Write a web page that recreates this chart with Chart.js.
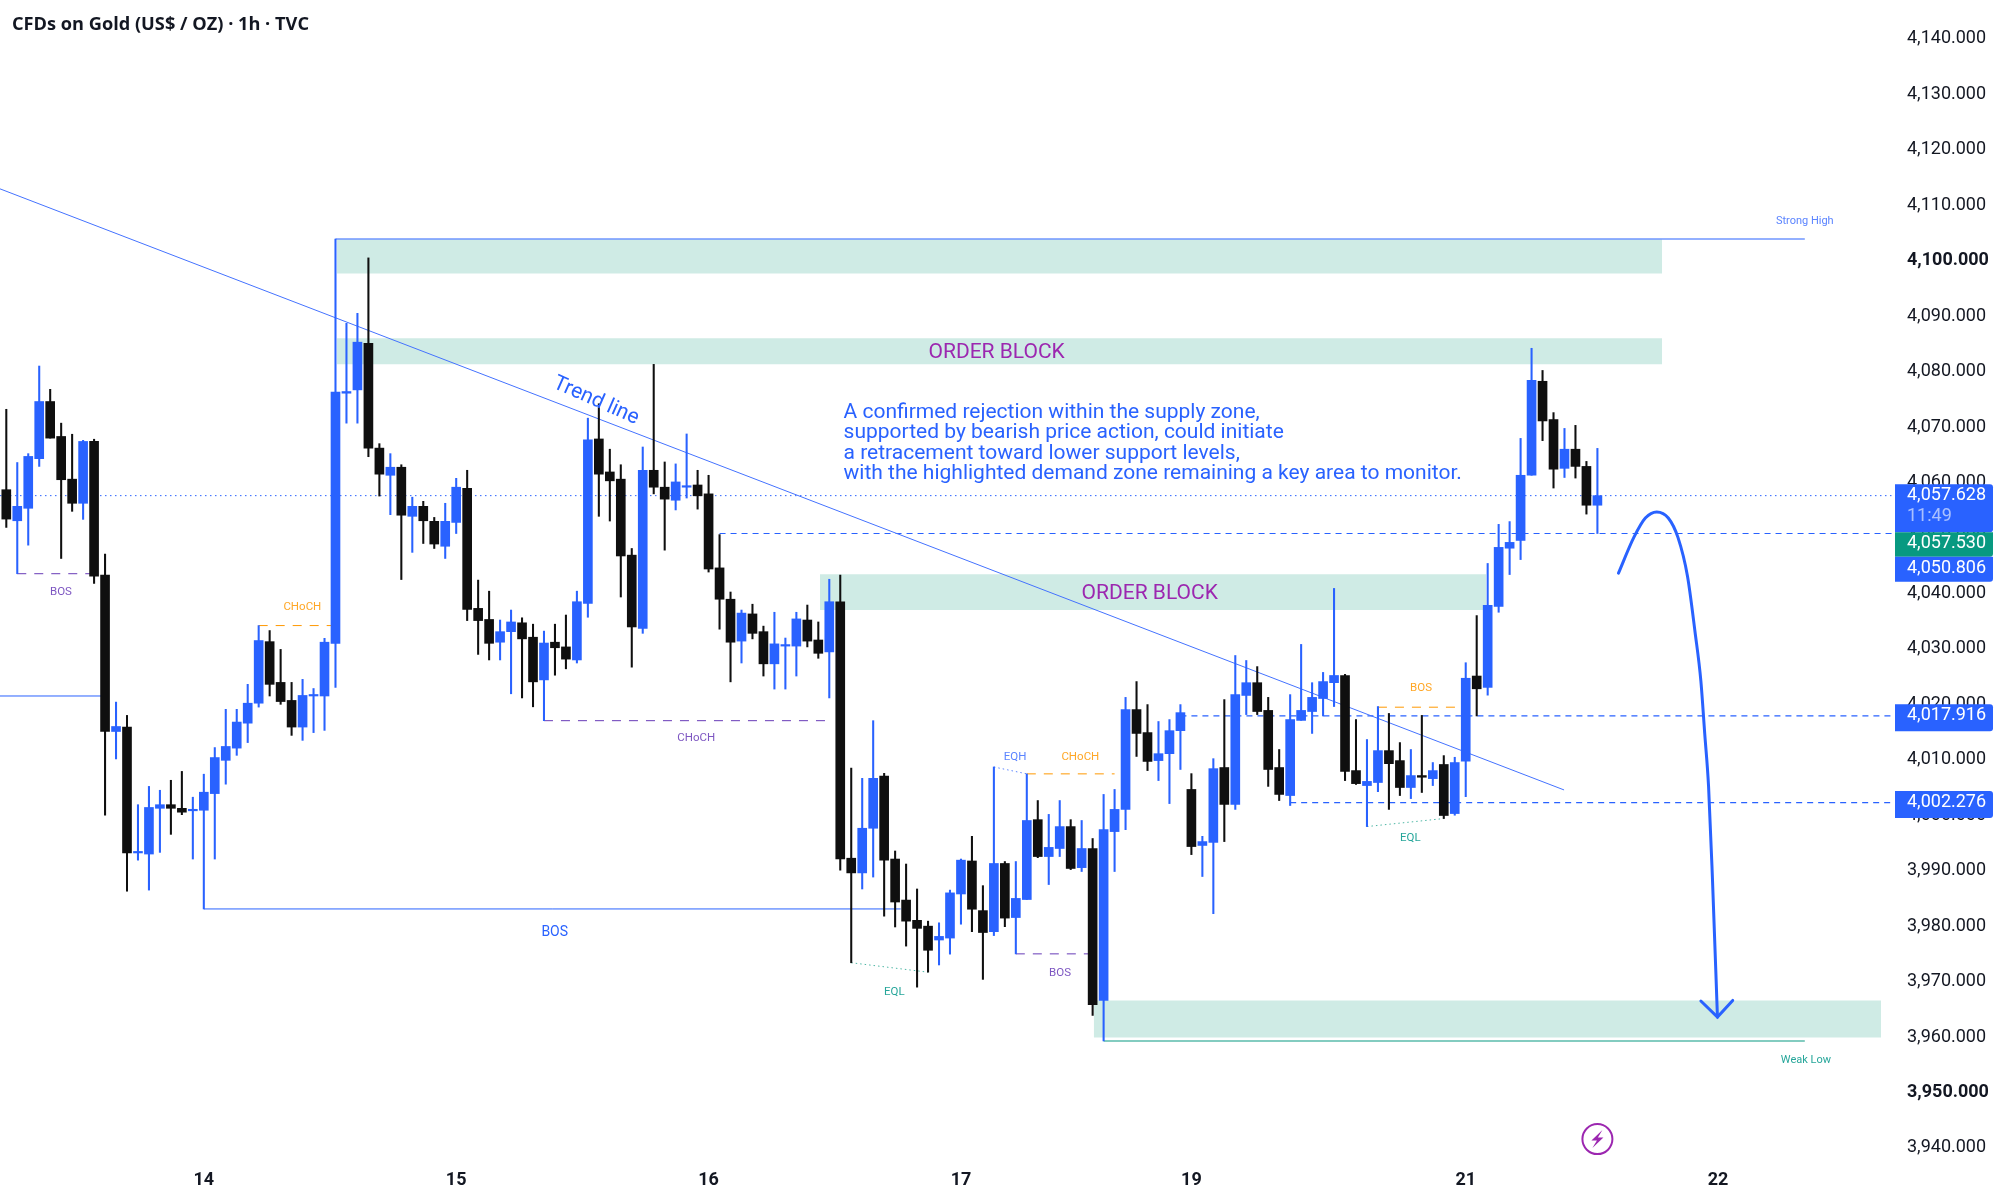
<!DOCTYPE html>
<html><head><meta charset="utf-8">
<style>html,body{margin:0;padding:0;background:#fff}canvas{display:block}</style>
<script src="https://cdn.jsdelivr.net/npm/chart.js@4"></script>
</head><body><canvas id="c" width="2001" height="1199"></canvas>
<script>
const titleText = 'CFDs on Gold (US$ / OZ) · 1h · TVC';
const opens = [
4058.7,4053.1,4055.35,4064.3,4074.6,4068.3,4060.6,4056.25,4067.4,4043.3,
4015.1,4015.9,3993.2,3993.0,4001.25,4001.9,4001.25,4000.8,4000.9,4003.9,
4009.9,4012.1,4016.6,4020.2,4031.3,4023.95,4020.7,4015.9,4021.5,4021.5,
4031.0,4076.1,4076.7,4085.1,4066.2,4061.3,4062.75,4053.9,4055.7,4053.0,
4048.5,4052.8,4058.95,4037.3,4035.3,4031.2,4033.1,4034.7,4032.1,4024.4,
4031.2,4030.35,4028.0,4038.2,4067.85,4061.9,4060.6,4046.9,4033.7,4062.2,
4059.15,4056.8,4059.15,4059.55,4057.95,4044.6,4038.95,4031.4,4036.3,4033.1,
4027.3,4030.5,4030.5,4035.2,4031.6,4029.45,4038.5,3992.25,3989.6,3997.65,
4007.05,3992.1,3984.7,3981.05,3980.0,3977.5,3977.85,3985.8,3991.75,3982.8,
3979.0,3991.3,3981.55,3984.8,3999.2,3992.55,3994.0,3997.95,3990.55,3994.0,
3966.6,3997.05,4001.05,4019.05,4014.9,4009.85,4011.1,4015.25,4004.65,3994.55,
3995.1,4008.6,4001.95,4021.6,4023.9,4018.9,4008.6,4003.55,4017.1,4018.7,
4021.05,4023.9,4025.2,4008.05,4005.35,4005.9,4011.65,4009.85,4005.0,4007.15,
4006.6,4009.15,4000.3,4009.75,4025.1,4023.05,4037.65,4048.15,4049.55,4061.3,
4078.25,4071.35,4062.55,4066.0,4062.9,4055.9];
const closes = [
4053.4,4055.7,4064.7,4074.6,4068.0,4060.5,4056.25,4067.4,4043.1,4015.1,
4016.0,3993.2,3993.3,4001.4,4001.9,4001.25,4000.55,4001.0,4004.15,4010.4,
4012.4,4016.8,4020.2,4031.5,4023.6,4020.5,4015.9,4021.6,4021.7,4031.2,
4076.3,4076.4,4085.3,4066.2,4061.5,4062.75,4054.1,4055.7,4053.1,4048.9,
4053.0,4059.15,4037.1,4035.1,4031.0,4033.1,4034.85,4031.8,4024.05,4031.05,
4030.2,4028.15,4038.5,4067.7,4061.5,4060.3,4046.75,4033.95,4062.2,4059.15,
4057.0,4060.1,4059.3,4057.6,4044.4,4038.95,4031.2,4036.45,4032.8,4027.3,
4030.9,4030.65,4035.4,4031.4,4029.2,4038.5,3992.1,3989.6,3997.65,4006.65,
3991.9,3984.35,3980.9,3979.6,3975.65,3978.15,3986.0,3991.9,3983.05,3978.85,
3991.3,3981.45,3985.0,3999.05,3992.55,3994.2,3997.95,3990.4,3994.0,3965.85,
3997.4,4001.05,4019.05,4014.75,4009.7,4011.1,4015.25,4018.5,3994.35,3995.25,
4008.4,4001.95,4021.75,4023.9,4018.7,4008.25,4003.75,4017.25,4018.9,4021.25,
4024.1,4025.2,4007.9,4005.7,4006.1,4011.65,4009.3,4005.0,4007.15,4006.85,
4008.05,3999.95,4009.5,4024.7,4022.8,4037.85,4048.3,4049.2,4061.3,4078.4,
4071.1,4062.4,4066.0,4062.9,4055.9,4057.63];
const highs = [
4073.2,4063.6,4065.2,4081.0,4076.8,4070.7,4068.7,4067.6,4067.8,4047.1,
4020.4,4018.0,4001.9,4005.2,4004.5,4006.3,4007.9,4003.25,4007.4,4012.2,
4019.1,4019.1,4023.6,4034.2,4033.3,4029.9,4023.95,4024.5,4022.85,4031.9,
4103.9,4088.7,4090.5,4100.5,4067.0,4065.2,4063.2,4057.35,4056.6,4053.7,
4056.25,4060.75,4062.2,4042.4,4040.4,4035.2,4037.0,4035.6,4034.45,4033.2,
4034.45,4036.1,4040.4,4071.6,4074.2,4066.0,4063.2,4048.1,4066.4,4081.3,
4063.7,4063.35,4068.75,4062.2,4061.3,4050.6,4040.25,4037.0,4038.05,4034.1,
4036.6,4031.95,4036.6,4037.9,4034.85,4042.55,4043.3,4008.5,4006.65,4017.05,
4007.55,3993.55,3991.2,3986.7,3980.9,3980.6,3986.5,3992.1,3996.2,3987.3,
4008.7,3991.65,3991.65,4007.45,4002.65,4000.15,4002.65,3999.2,3999.05,3995.8,
4003.75,4004.65,4021.25,4024.1,4019.95,4016.9,4017.25,4019.95,4007.5,3996.2,
4010.2,4020.85,4028.8,4027.9,4026.8,4021.25,4011.85,4021.75,4030.8,4023.9,
4025.75,4040.9,4025.4,4017.25,4013.65,4019.6,4018.35,4013.1,4011.85,4018.0,
4009.5,4010.75,4010.45,4027.5,4036.0,4045.4,4052.45,4052.95,4067.95,4084.2,
4080.2,4072.6,4069.75,4070.3,4063.8,4066.15];
const lows = [
4051.9,4043.55,4048.7,4062.9,4068.0,4046.3,4054.8,4053.35,4041.8,4000.0,
4010.15,3986.3,3991.9,3986.5,3993.3,3996.55,4000.1,3992.1,3983.1,3992.1,
4005.6,4010.8,4013.1,4019.5,4021.5,4020.0,4014.4,4013.5,4014.9,4015.3,
4023.05,4070.7,4070.7,4064.65,4057.55,4054.2,4042.5,4047.4,4049.0,4048.1,
4046.3,4050.8,4035.1,4029.0,4028.0,4028.0,4021.9,4021.15,4019.55,4017.05,
4025.25,4026.4,4027.45,4035.7,4053.9,4053.05,4039.35,4026.7,4032.8,4057.95,
4047.8,4055.05,4057.2,4055.2,4043.85,4033.55,4024.05,4027.45,4031.8,4025.1,
4022.75,4022.75,4025.1,4030.35,4028.3,4021.15,3990.1,3973.4,3986.7,3988.85,
3981.8,3979.85,3976.4,3969.0,3971.7,3973.0,3974.95,3980.35,3979.0,3970.4,
3978.3,3979.9,3975.0,3984.8,3992.35,3987.5,3992.55,3990.2,3989.85,3963.9,
3959.3,3989.85,3997.4,4010.6,4008.05,4006.25,4002.1,4008.25,3992.9,3988.95,
3982.25,3995.25,4001.05,4018.15,4018.15,4005.2,4002.65,4001.75,4017.1,4014.75,
4017.9,4019.6,4006.25,4005.55,3997.95,4004.25,4001.05,4003.55,4003.0,4004.1,
4005.35,3999.4,4000.0,4003.35,4017.9,4021.65,4036.6,4043.4,4046.1,4061.3,
4067.55,4059.0,4060.9,4060.8,4054.3,4050.8];

const dayLabels = ['14','15','16','17','19','21','22'];
const dayPositions = [18,41,64,87,108,133,156];
const boldPriceTicks = [4100,3950];

const BLUE='#2962FF', INK='#0F0F0F', ORANGE='#FF9800', PURPLE='#673AB7', GREEN='#089981';

const zones = [
  {x0:30.14,x1:150.9,top:4103.8,bottom:4097.7},
  {x0:30.14,x1:150.9,top:4086.0,bottom:4081.3},
  {x0:74.15,x1:134.85,top:4043.45,bottom:4037.0},
  {x0:99.1,x1:170.85,top:3966.6,bottom:3959.9}
];
const segments = [
  {pts:[[30,4103.9],[163.9,4103.9]],color:BLUE,w:1.1},
  {pts:[[100,3959.3],[163.9,3959.3]],color:GREEN,w:1.1},
  {pts:[[-0.574,4112.95],[141.96,4004.56]],color:'#4472ff',w:1},
  {pts:[[-0.574,4021.5],[9,4021.5]],color:BLUE,w:1},
  {pts:[[18,3983.1],[81.5,3983.1]],color:BLUE,w:1},
  {pts:[[1,4043.55],[8,4043.55]],color:PURPLE,w:1,dash:[9,8]},
  {pts:[[23,4034.2],[30,4034.2]],color:ORANGE,w:1,dash:[9,8]},
  {pts:[[49,4017.05],[75,4017.05]],color:PURPLE,w:1,dash:[9,8]},
  {pts:[[93,4007.46],[101,4007.46]],color:ORANGE,w:1,dash:[9,8]},
  {pts:[[92,3975.0],[99,3975.0]],color:PURPLE,w:1,dash:[9,8]},
  {pts:[[125,4019.48],[133,4019.48]],color:ORANGE,w:1,dash:[9,8]},
  {pts:[[-0.574,4057.628],[172.12,4057.628]],color:BLUE,w:1,dash:[1.5,3.5]},
  {pts:[[65,4050.806],[172.12,4050.806]],color:BLUE,w:1.2,dash:[6,5]},
  {pts:[[107,4017.916],[172.12,4017.916]],color:BLUE,w:1.2,dash:[6,5]},
  {pts:[[117,4002.276],[172.12,4002.276]],color:BLUE,w:1.2,dash:[6,5]},
  {pts:[[77,3973.4],[84,3971.7]],color:'#4db6a4',w:1,dash:[1.5,3]},
  {pts:[[124,3997.96],[131,3999.4]],color:'#4db6a4',w:1,dash:[1.5,3]},
  {pts:[[90,4008.7],[93,4007.46]],color:'#5b84ff',w:1,dash:[1.5,3]}
];
const curveX = [146.92,148.32,149.37,150.41,151.46,152.34,153.21,153.9,154.43,154.78,155.13,155.48,155.94];
const curveY = [4043.65,4050.1,4053.6,4054.7,4053.6,4050.1,4043.1,4033,4024.2,4014.7,4005.2,3988.75,3963.6];
const arrowHeadX = [154.43,155.94,157.33];
const arrowHeadY = [3966.5,3963.6,3966.6];

const labels = [
  {t:'BOS',x:4.98,y:4040.2,c:'#7e57c2',s:11.5},
  {t:'CHoCH',x:26.98,y:4037.5,c:'#ffa726',s:11.5},
  {t:'BOS',x:49.98,y:3978.8,c:'#2962FF',s:14},
  {t:'CHoCH',x:62.88,y:4013.9,c:'#7e57c2',s:11.5},
  {t:'EQL',x:80.93,y:3968.1,c:'#26a69a',s:11.5},
  {t:'EQH',x:91.93,y:4010.5,c:'#5b84ff',s:11.5},
  {t:'CHoCH',x:97.88,y:4010.5,c:'#ffa726',s:11.5},
  {t:'BOS',x:96.03,y:3971.5,c:'#7e57c2',s:11.5},
  {t:'BOS',x:128.93,y:4022.9,c:'#ffa726',s:11.5},
  {t:'EQL',x:127.95,y:3995.9,c:'#26a69a',s:11.5},
  {t:'Strong High',x:163.9,y:4107.1,c:'#5b84ff',s:11},
  {t:'Weak Low',x:164.0,y:3955.8,c:'#26a69a',s:11},
  {t:'ORDER BLOCK',x:90.25,y:4083.4,c:'#9C27B0',s:21},
  {t:'ORDER BLOCK',x:104.2,y:4039.9,c:'#9C27B0',s:21},
  {t:'Trend line',x:53.74,y:4074.7,c:BLUE,s:21,rot:24},
  {t:'A confirmed rejection within the supply zone,',x:76.3,y:4072.5,c:BLUE,s:21,left:true},
  {t:'supported by bearish price action, could initiate',x:76.3,y:4068.9,c:BLUE,s:21,left:true},
  {t:'a retracement toward lower support levels,',x:76.3,y:4065.2,c:BLUE,s:21,left:true},
  {t:'with the highlighted demand zone remaining a key area to monitor.',x:76.3,y:4061.55,c:BLUE,s:21,left:true}
];
const priceTags = [
  {lines:[{t:'4,057.628',c:'#fff',d:0},{t:'11:49',c:'rgba(255,255,255,.6)',d:21}],price:4057.628,up:11.5,h:48,bg:BLUE},
  {lines:[{t:'4,057.530',c:'#fff',d:0}],price:4057.628,up:-36.5,h:24.5,bg:GREEN,stack:true},
  {lines:[{t:'4,050.806',c:'#fff',d:0}],price:4057.628,up:-61,h:25,bg:BLUE,stack:true},
  {lines:[{t:'4,017.916',c:'#fff',d:0}],price:4017.916,up:11.5,h:27,bg:BLUE},
  {lines:[{t:'4,002.276',c:'#fff',d:0}],price:4002.276,up:11.5,h:27,bg:BLUE}
];
const flashIcon = {x:145,y:3941.6,color:'#9C27B0'};

const idx = opens.map((_,i)=>i);
const candleColor = idx.map(i=>closes[i]>=opens[i]?BLUE:INK);

const datasets = [];
zones.forEach(z=>datasets.push({type:'line',data:[{x:z.x0,y:z.top},{x:z.x1,y:z.top}],
  fill:{value:z.bottom},backgroundColor:'#CFEBE5',borderWidth:0,pointRadius:0,order:100,clip:false}));
segments.forEach(s=>datasets.push({type:'line',data:s.pts.map(p=>({x:p[0],y:p[1]})),
  borderColor:s.color,borderWidth:s.w,borderDash:s.dash||[],pointRadius:0,fill:false,tension:0,order:50,clip:false}));
datasets.push({type:'bar',label:'wicks',data:idx.map(i=>({x:i,y:[lows[i],highs[i]]})),
  backgroundColor:candleColor,borderWidth:0,barThickness:1.4,grouped:false,order:20,clip:false});
datasets.push({type:'bar',label:'bodies',data:idx.map(i=>({x:i,y:[opens[i],closes[i]]})),
  backgroundColor:candleColor,borderWidth:0,barThickness:9,grouped:false,minBarLength:1.5,order:10,clip:false});
datasets.push({type:'line',label:'path',data:curveX.map((x,i)=>({x,y:curveY[i]})),
  borderColor:BLUE,borderWidth:3,pointRadius:0,tension:0.4,cubicInterpolationMode:'monotone',fill:false,order:1,clip:false,borderCapStyle:'round'});
datasets.push({type:'line',label:'arrow',data:arrowHeadX.map((x,i)=>({x,y:arrowHeadY[i]})),
  borderColor:BLUE,borderWidth:3,pointRadius:0,tension:0,fill:false,order:1,clip:false,borderCapStyle:'round',borderJoinStyle:'miter'});

const overlay = {
  id:'overlay',
  afterDraw(chart){
    const {ctx,scales:{x,y}} = chart;
    ctx.save();
    ctx.textBaseline='middle';
    labels.forEach(l=>{
      ctx.save();
      ctx.font=`${l.s}px Roboto`;
      ctx.fillStyle=l.c;
      ctx.textAlign=l.left?'left':'center';
      ctx.translate(x.getPixelForValue(l.x),y.getPixelForValue(l.y));
      if(l.rot) ctx.rotate(l.rot*Math.PI/180);
      ctx.fillText(l.t,0,0);
      ctx.restore();
    });
    const left=x.right;
    priceTags.forEach(t=>{
      const cy=y.getPixelForValue(t.price);
      const top=cy-t.up;
      ctx.fillStyle=t.bg;
      ctx.beginPath();
      ctx.roundRect(left,top,98,t.h,t.stack?[0,0,3,0]:[0,3,3,0]);
      ctx.fill();
      ctx.font='18px Roboto';
      ctx.textAlign='left';
      t.lines.forEach(li=>{
        ctx.fillStyle=li.c;
        ctx.fillText(li.t,left+12,top+(t.stack?t.h/2-1:11.5)+li.d);
      });
    });
    const ix=x.getPixelForValue(flashIcon.x), iy=y.getPixelForValue(flashIcon.y);
    ctx.strokeStyle=flashIcon.color;ctx.lineWidth=2;
    ctx.beginPath();ctx.arc(ix,iy,15,0,Math.PI*2);ctx.stroke();
    ctx.fillStyle=flashIcon.color;
    ctx.beginPath();
    ctx.moveTo(ix+5,iy-9);ctx.lineTo(ix-6,iy+1.5);ctx.lineTo(ix-0.5,iy+1.5);
    ctx.lineTo(ix-5,iy+9);ctx.lineTo(ix+6,iy-1.5);ctx.lineTo(ix+0.5,iy-1.5);ctx.closePath();ctx.fill();
    ctx.restore();
  }
};

new Chart(document.getElementById('c'),{
  type:'bar',
  data:{datasets},
  plugins:[overlay],
  options:{
    responsive:false,animation:false,devicePixelRatio:1,
    layout:{padding:{left:12,right:0,top:0,bottom:0}},
    plugins:{
      legend:{display:false},tooltip:{enabled:false},
      title:{display:true,text:titleText,align:'start',color:'#131722',
        font:{family:'"Open Sans"',size:18.2,weight:'700',lineHeight:1.2},padding:{top:14,bottom:3}}
    },
    scales:{
      x:{type:'linear',min:0.52,max:172.12,offset:false,
        grid:{display:false,drawTicks:false},border:{display:false},
        afterBuildTicks:s=>{s.ticks=dayPositions.map(value=>({value}));},
        afterFit:s=>{s.height=37;},
        ticks:{autoSkip:false,maxRotation:0,padding:8,color:'#131722',font:{family:'Roboto',size:18,weight:'bold'},
          callback:v=>dayLabels[dayPositions.indexOf(v)]}},
      y:{type:'linear',position:'right',min:3937.47,max:4140,beginAtZero:false,
        grid:{display:false,drawTicks:false},border:{display:false},
        afterFit:s=>{s.width=106;},
        ticks:{stepSize:10,includeBounds:false,autoSkip:false,padding:12,crossAlign:'near',align:'center',color:'#131722',
          font:c=>({family:'Roboto',size:18,weight:boldPriceTicks.includes(c.tick&&c.tick.value)?'bold':'normal'}),
          callback:v=>v.toLocaleString('en-US',{minimumFractionDigits:3,maximumFractionDigits:3})}}
    }
  }
});
</script></body></html>
